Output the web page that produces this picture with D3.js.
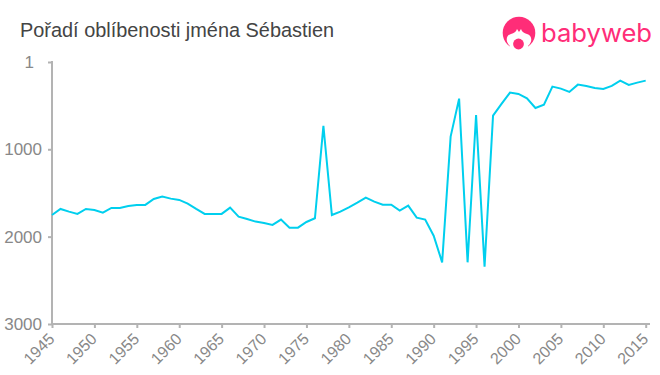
<!DOCTYPE html>
<html lang="cs">
<head>
  <meta charset="utf-8">
  <title>Pořadí oblíbenosti jména Sébastien</title>
  <script src="https://d3js.org/d3.v7.min.js"></script>
  <style>
    html, body { margin: 0; padding: 0; background: #fff; overflow: hidden; }
    svg { display: block; font-family: "Liberation Sans", Arial, sans-serif; }
    .axis path, .axis line { stroke: #b3b3b3; stroke-width: 2; }
    .axis text { fill: #888; font-size: 17px; }
    .x-axis text { font-size: 16px; }
  </style>
</head>
<body>
<svg id="chart" width="660" height="375"></svg>
<script>
  // values
  const years = d3.range(1945, 2016);
  const ranks = [
    1752, 1683, 1714, 1740, 1683, 1695, 1725, 1672, 1672, 1649,
    1637, 1637, 1569, 1542, 1565, 1580, 1622, 1683, 1740, 1740,
    1740, 1668, 1771, 1798, 1828, 1843, 1866, 1805, 1897, 1897,
    1832, 1790, 733, 1752, 1714, 1664, 1611, 1553, 1599, 1634,
    1634, 1702, 1645, 1783, 1805, 1989, 2294, 855, 420, 2294,
    607, 2344, 615, 481, 351, 366, 416, 527, 489, 283,
    306, 344, 260, 275, 298, 309, 275, 214, 263, 237, 214
  ];
  const yTicks = [1, 1000, 2000, 3000];
  const xTicks = d3.range(1945, 2016, 5);

  const svg = d3.select("#chart");

  const x = d3.scaleLinear().domain([1945, 2015]).range([52, 645.7]);
  const y = d3.scaleLinear().domain([1, 3000]).range([62, 324]);

  // title
  svg.append("text")
    .attr("x", 20)
    .attr("y", 37)
    .attr("fill", "#444")
    .style("font-size", "19.9px")
    .text("Pořadí oblíbenosti jména Sébastien");

  // y axis
  const yAxis = svg.append("g")
    .attr("class", "axis")
    .attr("transform", "translate(52,0)")
    .call(d3.axisLeft(y).tickValues(yTicks).tickSize(4).tickSizeOuter(0).tickPadding(6).tickFormat(d3.format("d")));
  yAxis.select(".domain").attr("d", "M0,61H0V325");
  // the "1" sits further left than the other labels
  yAxis.selectAll(".tick text").filter(d => d === 1).attr("dx", -8);

  // x axis, the line runs a bit past the last tick
  const xAxis = svg.append("g")
    .attr("class", "axis x-axis")
    .attr("transform", "translate(0,324)")
    .call(d3.axisBottom(x).tickValues(xTicks).tickSize(4).tickSizeOuter(0).tickFormat(d3.format("d")));
  xAxis.select(".domain").attr("d", "M51,0H650");
  xAxis.selectAll("text")
    .attr("text-anchor", "end")
    .attr("x", 0)
    .attr("y", 0)
    .attr("dy", 0)
    .attr("transform", "translate(3,16) rotate(-45)");

  // the line
  const line = d3.line()
    .x((d, i) => x(years[i]))
    .y(d => y(d));

  svg.append("path")
    .datum(ranks)
    .attr("fill", "none")
    .attr("stroke", "#00cfee")
    .attr("stroke-width", 2)
    .attr("d", line);

  // logo
  const logo = svg.append("g").attr("fill", "#ff2d78");
  logo.append("circle").attr("cx", 519).attr("cy", 33).attr("r", 16.3);
  logo.append("path")
    .attr("fill", "#fff")
    .attr("d", "M510,46 C505,42 506,35 511,34 C514,33 516,32 517,29 L519,32 L521,29 C522,32 524,33 527,34 C532,35 533,42 528,46 L528,52 L510,52 Z");
  logo.append("circle").attr("cx", 518.5).attr("cy", 44).attr("r", 5.4);
  logo.append("text")
    .attr("x", 541)
    .attr("y", 42)
    .attr("textLength", 111)
    .attr("lengthAdjust", "spacingAndGlyphs")
    .style("font-family", "Inter, sans-serif")
    .style("font-size", "25px")
    .text("babyweb");
</script>
</body>
</html>
